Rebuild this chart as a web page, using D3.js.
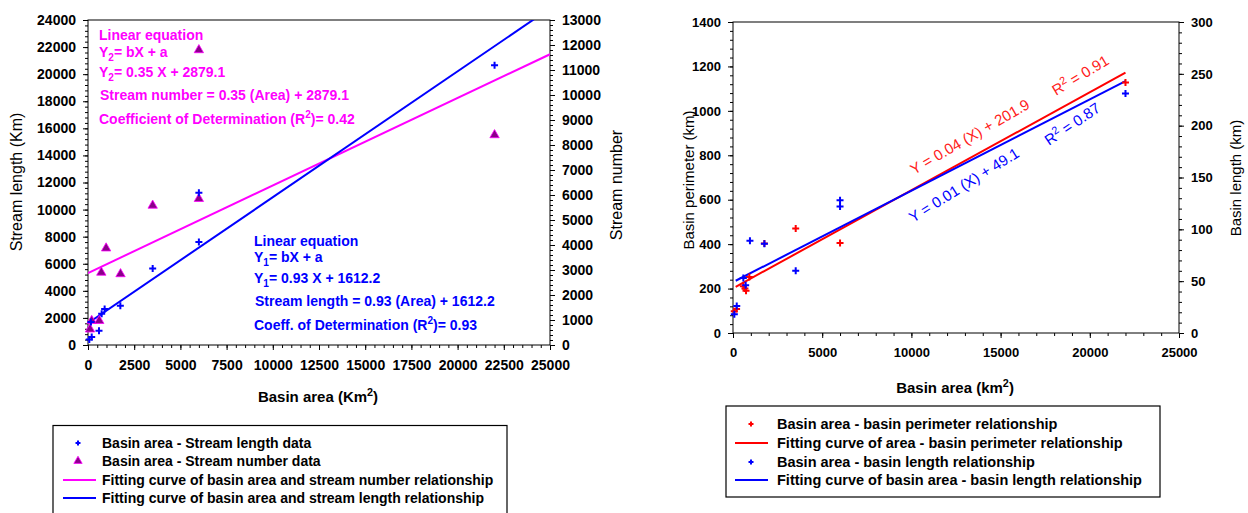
<!DOCTYPE html>
<html>
<head>
<meta charset="utf-8">
<script src="https://cdn.jsdelivr.net/npm/d3@7"></script>
<style>
  body { margin: 0; background: #fff; }
  svg { font-family: "Liberation Sans", Arial, sans-serif; }
</style>
</head>
<body>
<svg id="chart" width="1248" height="513"></svg>
<script>
// ---- left chart data (basin area vs stream length / stream number)
const lenArea   = [70, 200, 160, 595, 740, 900, 1750, 3500, 6000, 6000, 22000];
const lenValue  = [400, 600, 1700, 1050, 2300, 2650, 2900, 5650, 7600, 11250, 20650];
const numArea   = [110, 200, 610, 720, 980, 1760, 3500, 6000, 6000, 22000];
const numValue  = [630, 970, 970, 2900, 3870, 2840, 5580, 5850, 11800, 8400];
const lenFit    = [[0, 1612.2], [25000, 24862]];
const numFit    = [[0, 2879.1], [25000, 11629]];

// ---- right chart data (basin area vs perimeter / basin length)
const perArea   = [70, 200, 580, 670, 730, 915, 1760, 3515, 6000, 22000];
const perValue  = [98, 108, 211, 200, 190, 252, 403, 470, 405, 1128];
const blArea    = [75, 210, 580, 710, 950, 1760, 3515, 6000, 6000, 22000];
const blValue   = [18, 26, 53, 46, 89, 86, 60, 128, 122, 231];
const perFit    = [[150, 208], [22000, 1172]];
const blFit     = [[150, 50.4], [22000, 243]];

const svg = d3.select('#chart');
const BLUE = '#0000ff', PINK = '#ff00ff', RED = '#ff0000';

const plus = 'M-3.5,0H3.5M0,-3.5V3.5';
const tri = d3.symbol(d3.symbolTriangle, 38)();

function axes(g, x, y, y2, o) {
  const [x0, x1] = x.range(), [yb, yt] = y.range();
  const styleText = sel => sel.selectAll('text')
    .attr('font-size', o.fs).attr('font-weight', 'bold')
    .attr('font-family', '"Liberation Sans", Arial, sans-serif').attr('fill', '#000');
  // minor ticks
  g.append('g').attr('transform', `translate(0,${yb})`)
    .call(d3.axisBottom(x).tickValues(d3.range(0, 25001, o.xMinor)).tickSize(3).tickFormat(''))
    .call(a => a.select('.domain').remove());
  g.append('g').attr('transform', `translate(${x0},0)`)
    .call(d3.axisLeft(y).tickValues(d3.range(0, y.domain()[1] + 1, o.yMinor)).tickSize(3).tickFormat(''))
    .call(a => a.select('.domain').remove());
  g.append('g').attr('transform', `translate(${x1},0)`)
    .call(d3.axisRight(y2).tickValues(d3.range(0, y2.domain()[1] + 1, o.y2Minor)).tickSize(3).tickFormat(''))
    .call(a => a.select('.domain').remove());
  // major ticks
  g.append('g').attr('transform', `translate(0,${yb})`)
    .call(d3.axisBottom(x).tickValues(d3.range(0, 25001, o.xMajor)).tickSize(5).tickPadding(10).tickFormat(d3.format('d')))
    .call(a => a.select('.domain').remove()).call(styleText);
  g.append('g').attr('transform', `translate(${x0},0)`)
    .call(d3.axisLeft(y).tickValues(d3.range(0, y.domain()[1] + 1, o.yMajor)).tickSize(5).tickPadding(7).tickFormat(d3.format('d')))
    .call(a => a.select('.domain').remove()).call(styleText);
  g.append('g').attr('transform', `translate(${x1},0)`)
    .call(d3.axisRight(y2).tickValues(d3.range(0, y2.domain()[1] + 1, o.y2Major)).tickSize(5).tickPadding(7).tickFormat(d3.format('d')))
    .call(a => a.select('.domain').remove()).call(styleText);
  g.selectAll('.tick line').attr('stroke', '#000');
  g.append('rect').attr('x', x0).attr('y', yt).attr('width', x1 - x0).attr('height', yb - yt)
    .attr('fill', 'none').attr('stroke', '#000').attr('stroke-width', 1);
}

// text with sub/superscripts: parts = [[text, 'n'|'sub'|'sup'], ...]
function rich(g, x, y, parts, attrs) {
  const t = g.append('text').attr('x', x).attr('y', y);
  Object.entries(attrs).forEach(([k, v]) => t.attr(k, v));
  let shift = 0;
  parts.forEach(([s, kind]) => {
    const target = kind === 'sub' ? 4 : kind === 'sup' ? -6 : 0;
    t.append('tspan').attr('dy', target - shift)
      .attr('font-size', kind === 'n' ? null : '0.72em').text(s);
    shift = target;
  });
  return t;
}

function legend(g, x, y, w, h, items) {
  g.append('rect').attr('x', x).attr('y', y).attr('width', w).attr('height', h)
    .attr('fill', '#fff').attr('stroke', '#000').attr('stroke-width', 1.2);
  items.forEach(it => {
    if (it.type === 'line') {
      g.append('line').attr('x1', it.sx - 16).attr('x2', it.sx + 17).attr('y1', it.y).attr('y2', it.y)
        .attr('stroke', it.color).attr('stroke-width', 2);
    } else if (it.type === 'plus') {
      g.append('path').attr('d', 'M-2.5,0H2.5M0,-2.5V2.5').attr('transform', `translate(${it.sx},${it.y})`)
        .attr('stroke', it.color).attr('stroke-width', 2);
    } else {
      g.append('path').attr('d', d3.symbol(d3.symbolTriangle, 30)()).attr('transform', `translate(${it.sx},${it.y})`)
        .attr('fill', '#8a008a').attr('stroke', PINK).attr('stroke-width', 0.8);
    }
    g.append('text').attr('x', it.tx).attr('y', it.y).attr('dy', '0.35em')
      .attr('font-size', it.fs).attr('font-weight', 'bold').text(it.label);
  });
}

// ================= LEFT CHART =================
const xL = d3.scaleLinear().domain([0, 25000]).range([88, 550]);
const yL = d3.scaleLinear().domain([0, 24000]).range([345, 20]);
const yL2 = d3.scaleLinear().domain([0, 13000]).range([345, 20]);
const gL = svg.append('g');

gL.append('clipPath').attr('id', 'clipL').append('rect')
  .attr('x', 88).attr('y', 20).attr('width', 462).attr('height', 325);

axes(gL, xL, yL, yL2, { fs: 14, xMajor: 2500, xMinor: 500, yMajor: 2000, yMinor: 400, y2Major: 1000, y2Minor: 200 });

const lineL = d3.line().x(d => xL(d[0])).y(d => yL(d[1]));
const lineL2 = d3.line().x(d => xL(d[0])).y(d => yL2(d[1]));
gL.append('path').attr('d', lineL2(numFit)).attr('clip-path', 'url(#clipL)')
  .attr('fill', 'none').attr('stroke', PINK).attr('stroke-width', 2);
gL.append('path').attr('d', lineL(lenFit)).attr('clip-path', 'url(#clipL)')
  .attr('fill', 'none').attr('stroke', BLUE).attr('stroke-width', 2);

gL.selectAll('.num').data(numArea).enter().append('path').attr('class', 'num')
  .attr('d', tri).attr('transform', (d, i) => `translate(${xL(d)},${yL2(numValue[i])})`)
  .attr('fill', '#8a008a').attr('stroke', PINK).attr('stroke-width', 0.8);
gL.selectAll('.len').data(lenArea).enter().append('path').attr('class', 'len')
  .attr('d', plus).attr('transform', (d, i) => `translate(${xL(d)},${yL(lenValue[i])})`)
  .attr('stroke', BLUE).attr('stroke-width', 2);

const annL = { 'font-size': 14, 'font-weight': 'bold' };
rich(gL, 99, 40, [['Linear equation', 'n']], { ...annL, fill: PINK });
rich(gL, 99, 57, [['Y', 'n'], ['2', 'sub'], ['= bX + a', 'n']], { ...annL, fill: PINK });
rich(gL, 99, 77, [['Y', 'n'], ['2', 'sub'], ['= 0.35 X + 2879.1', 'n']], { ...annL, fill: PINK });
rich(gL, 100, 100, [['Stream number = 0.35 (Area) + 2879.1', 'n']], { ...annL, fill: PINK });
rich(gL, 99, 124, [['Coefficient of Determination (R', 'n'], ['2', 'sup'], [')= 0.42', 'n']], { ...annL, fill: PINK });

rich(gL, 254, 246, [['Linear equation', 'n']], { ...annL, fill: BLUE });
rich(gL, 254, 262, [['Y', 'n'], ['1', 'sub'], ['= bX + a', 'n']], { ...annL, fill: BLUE });
rich(gL, 254, 283, [['Y', 'n'], ['1', 'sub'], ['= 0.93 X + 1612.2', 'n']], { ...annL, fill: BLUE });
rich(gL, 255, 306, [['Stream length = 0.93 (Area) + 1612.2', 'n']], { ...annL, fill: BLUE });
rich(gL, 254, 330, [['Coeff. of Determination (R', 'n'], ['2', 'sup'], [')= 0.93', 'n']], { ...annL, fill: BLUE });

gL.append('text').attr('transform', 'translate(22,182) rotate(-90)').attr('text-anchor', 'middle')
  .attr('font-size', 16).text('Stream length (Km)');
gL.append('text').attr('transform', 'translate(622,185) rotate(-90)').attr('text-anchor', 'middle')
  .attr('font-size', 16).text('Stream number');
rich(gL, 318, 402, [['Basin area (Km', 'n'], ['2', 'sup'], [')', 'n']],
  { 'font-size': 15, 'font-weight': 'bold', 'text-anchor': 'middle' });

legend(gL, 53, 425.5, 454, 95, [
  { type: 'plus', color: BLUE, sx: 78, tx: 102, y: 443, fs: 14, label: 'Basin area - Stream length data' },
  { type: 'tri', sx: 78, tx: 102, y: 461, fs: 14, label: 'Basin area - Stream number data' },
  { type: 'line', color: PINK, sx: 79, tx: 102, y: 480, fs: 14, label: 'Fitting curve of basin area and stream number relationship' },
  { type: 'line', color: BLUE, sx: 79, tx: 102, y: 498, fs: 14, label: 'Fitting curve of basin area and stream length relationship' }
]);

// ================= RIGHT CHART =================
const xR = d3.scaleLinear().domain([0, 25000]).range([733, 1179]);
const yR = d3.scaleLinear().domain([0, 1400]).range([333, 22]);
const yR2 = d3.scaleLinear().domain([0, 300]).range([333, 22]);
const gR = svg.append('g');

axes(gR, xR, yR, yR2, { fs: 13, xMajor: 5000, xMinor: 1000, yMajor: 200, yMinor: 40, y2Major: 50, y2Minor: 10 });

gR.append('path').attr('d', d3.line().x(d => xR(d[0])).y(d => yR(d[1]))(perFit))
  .attr('fill', 'none').attr('stroke', RED).attr('stroke-width', 2);
gR.append('path').attr('d', d3.line().x(d => xR(d[0])).y(d => yR2(d[1]))(blFit))
  .attr('fill', 'none').attr('stroke', BLUE).attr('stroke-width', 2);

gR.selectAll('.per').data(perArea).enter().append('path').attr('class', 'per')
  .attr('d', plus).attr('transform', (d, i) => `translate(${xR(d)},${yR(perValue[i])})`)
  .attr('stroke', RED).attr('stroke-width', 2);
gR.selectAll('.bl').data(blArea).enter().append('path').attr('class', 'bl')
  .attr('d', plus).attr('transform', (d, i) => `translate(${xR(d)},${yR2(blValue[i])})`)
  .attr('stroke', BLUE).attr('stroke-width', 2);

const annR = { 'font-size': 15 };
rich(gR, 0, 0, [['Y = 0.04 (X) + 201.9', 'n']], { ...annR, fill: '#ff2020', transform: 'translate(914,175) rotate(-30)' });
rich(gR, 0, 0, [['R', 'n'], ['2', 'sup'], [' = 0.91', 'n']], { ...annR, fill: '#ff2020', transform: 'translate(1056,96) rotate(-31)' });
rich(gR, 0, 0, [['Y = 0.01 (X) + 49.1', 'n']], { ...annR, fill: BLUE, transform: 'translate(913,223) rotate(-32)' });
rich(gR, 0, 0, [['R', 'n'], ['2', 'sup'], [' = 0.87', 'n']], { ...annR, fill: BLUE, transform: 'translate(1049,146) rotate(-34)' });

gR.append('text').attr('transform', 'translate(694,180) rotate(-90)').attr('text-anchor', 'middle')
  .attr('font-size', 15).text('Basin perimeter (km)');
gR.append('text').attr('transform', 'translate(1241,178) rotate(-90)').attr('text-anchor', 'middle')
  .attr('font-size', 15).text('Basin length (km)');
rich(gR, 955, 393, [['Basin area (km', 'n'], ['2', 'sup'], [')', 'n']],
  { 'font-size': 15, 'font-weight': 'bold', 'text-anchor': 'middle' });

legend(gR, 726, 406, 434, 91, [
  { type: 'plus', color: RED, sx: 751, tx: 777, y: 424, fs: 14.5, label: 'Basin area - basin perimeter relationship' },
  { type: 'line', color: RED, sx: 751, tx: 777, y: 443, fs: 14.5, label: 'Fitting curve of area - basin perimeter relationship' },
  { type: 'plus', color: BLUE, sx: 751, tx: 777, y: 462, fs: 14.5, label: 'Basin area - basin length relationship' },
  { type: 'line', color: BLUE, sx: 751, tx: 777, y: 480, fs: 14.5, label: 'Fitting curve of basin area - basin length relationship' }
]);
</script>
</body>
</html>
